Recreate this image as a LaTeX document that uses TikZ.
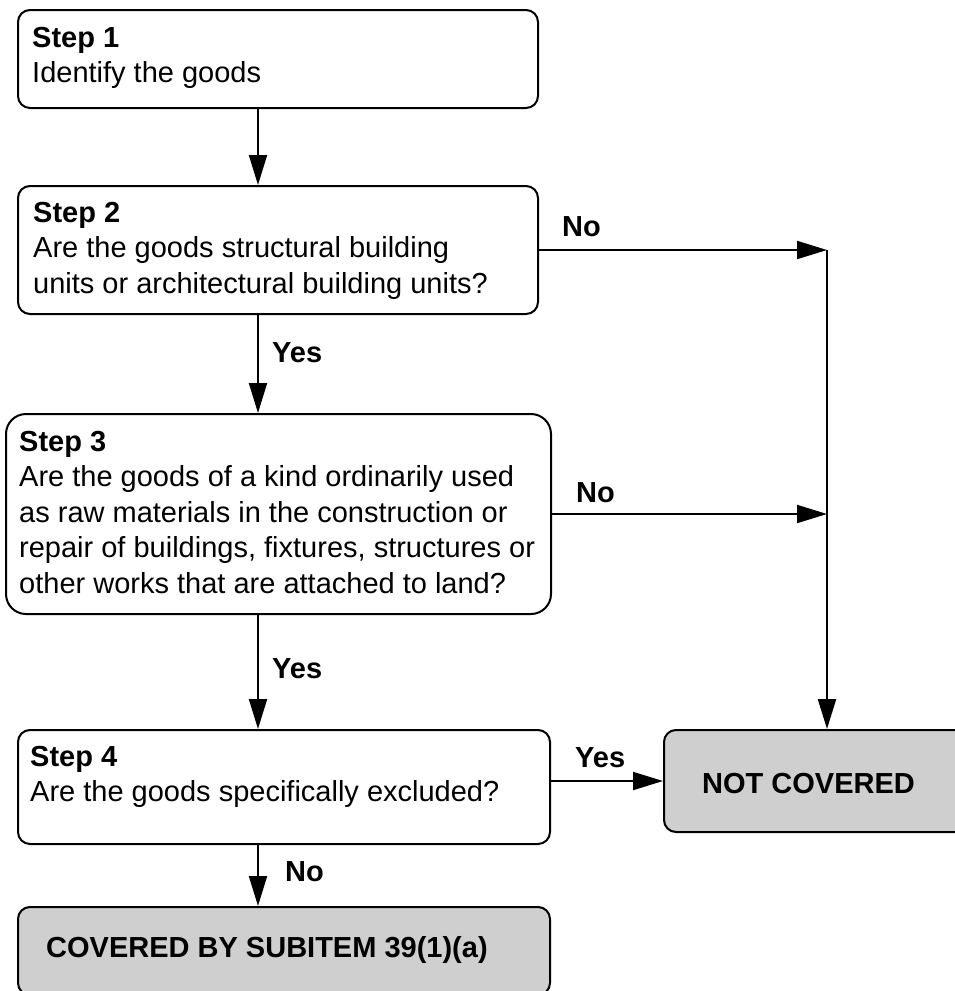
\documentclass[tikz,border=0pt]{standalone}
\usepackage{fontspec}
\setmainfont{Liberation Sans}
\usetikzlibrary{arrows.meta,calc}
\definecolor{boxgray}{RGB}{207,207,207}
% title line in bold, then the question lines
\newcommand{\steptext}[2]{\parbox[t]{600pt}{\raggedright\fontsize{29}{35.5}\selectfont\textbf{#1}\\#2}}

\begin{document}
\begin{tikzpicture}[x=1pt,y=-1pt,
  stepbox/.style={draw, line width=2pt, rounded corners=12pt, fill=white, inner sep=0pt},
  endbox/.style={stepbox, fill=boxgray},
  steptxt/.style={anchor=base west, inner sep=0pt},
  lbl/.style={anchor=base west, inner sep=0pt, font=\fontsize{29}{34}\selectfont\bfseries},
  flow/.style={line width=2pt, -{Triangle[length=30pt,width=18pt]}}]
\useasboundingbox (0,0) rectangle (955,991);
\clip (0,0) rectangle (955,991);

% boxes
\node[stepbox, minimum width=520pt, minimum height=98pt] (s1) at (278,59) {};
\node[stepbox, minimum width=520pt, minimum height=128pt] (s2) at (278,250) {};
\node[stepbox, rounded corners=20pt, minimum width=545pt, minimum height=200pt] (s3) at (278.5,514) {};
\node[stepbox, minimum width=532pt, minimum height=114pt] (s4) at (284,787) {};
\node[endbox, minimum width=532pt, minimum height=88pt] (cov) at (284,951) {};
\node[endbox, minimum width=310pt, minimum height=102pt] (nc) at (819,781) {};

% box texts
\node[steptxt] (t1) at ($(s1.north west)+(15,38)$) {\steptext{Step 1}{Identify the goods}};
\node[steptxt] (t2) at ($(s2.north west)+(16,37)$) {\steptext{Step 2}{Are the goods structural building\\units or architectural building units?}};
\node[steptxt] (t3) at ($(s3.north west)+(14,38)$) {\steptext{Step 3}{Are the goods of a kind ordinarily used\\as raw materials in the construction or\\repair of buildings, fixtures, structures or\\other works that are attached to land?}};
\node[steptxt] (t4) at ($(s4.north west)+(13,37)$) {\steptext{Step 4}{Are the goods specifically excluded?}};
\node[lbl] (tnc) at (702,793) {NOT COVERED};
\node[lbl] (tcov) at (46,957) {COVERED BY SUBITEM 39(1)(a)};

% main column of connectors
\coordinate (spine) at (258,0);
\draw[flow] (s1.south -| spine) -- (s2.north -| spine);
\draw[flow] (s2.south -| spine) -- (s3.north -| spine);
\draw[flow] (s3.south -| spine) -- (s4.north -| spine);
\draw[flow] (s4.south -| spine) -- (cov.north -| spine);

% branches to the right
\coordinate (j1) at (827,250);
\draw[flow] (s2.east) -- (j1);
\draw[flow] (s3.east) -- (s3.east -| j1);
\draw[flow, line width=2.4pt] (j1) -- (j1 |- nc.north);
\draw[flow] (s4.east |- nc.west) -- (nc.west);

% branch labels
\node[lbl] (y1) at (272,362) {Yes};
\node[lbl] (y2) at (272,678) {Yes};
\node[lbl] (n4) at (285,881) {No};
\node[lbl] (n2) at (562,236) {No};
\node[lbl] (n3) at (576,502) {No};
\node[lbl] (y4) at (575,767) {Yes};
\end{tikzpicture}
\end{document}
